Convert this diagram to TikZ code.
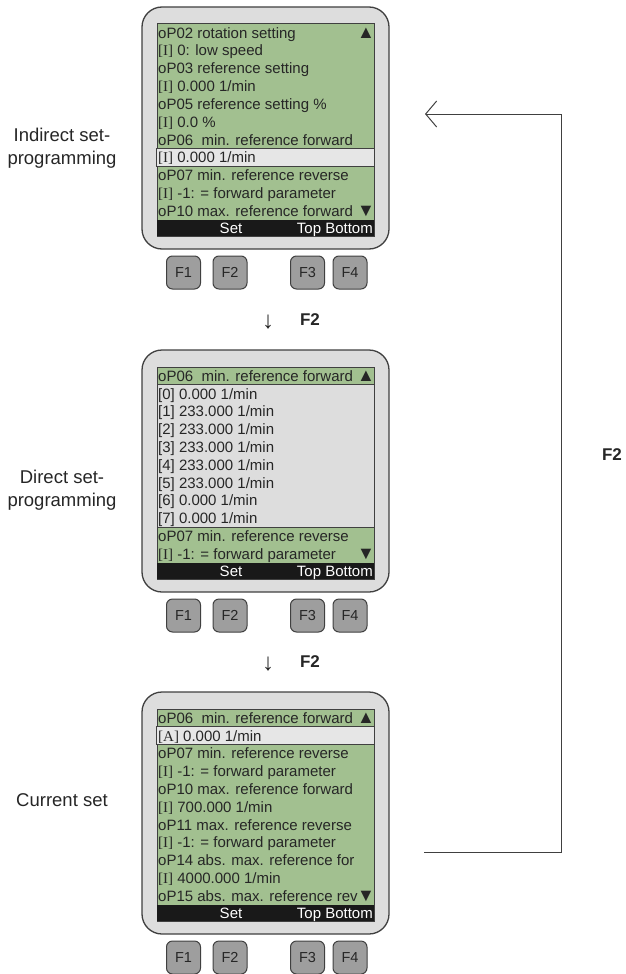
\documentclass[tikz,border=0pt]{standalone}
\usepackage{fontspec}
\setmainfont{Liberation Sans}
\newfontfamily\brfont{Liberation Serif}
\usetikzlibrary{arrows.meta}
\definecolor{lcdgreen}{RGB}{162,192,144}
\definecolor{casegrey}{RGB}{221,221,221}
\definecolor{keygrey}{RGB}{158,158,158}
\definecolor{selgrey}{RGB}{230,230,230}
\definecolor{darkline}{RGB}{64,64,64}
\definecolor{txt}{RGB}{38,38,38}
\tikzstyle{casing}=[draw=darkline,fill=casegrey,line width=1.3pt,rounded corners=20pt]
\tikzstyle{lcd}=[draw=darkline,fill=lcdgreen,line width=1pt]
\tikzstyle{selrow}=[draw=darkline,fill=selgrey,line width=1pt]
\tikzstyle{listbox}=[draw=darkline,fill=casegrey,line width=1pt]
\tikzstyle{bar}=[fill=black!90]
\tikzstyle{row}=[anchor=base west,inner sep=0pt,text=txt,font=\fontsize{15}{17}\selectfont]
\tikzstyle{arrowmark}=[anchor=base,inner sep=0pt,text=txt,font=\fontsize{18}{20}\selectfont]
\tikzstyle{bartext}=[anchor=base,inner sep=0pt,text=white,font=\fontsize{15}{17}\selectfont]
\tikzstyle{key}=[draw=darkline,fill=keygrey,rounded corners=6pt,line width=1pt,minimum width=34pt,minimum height=33pt,inner sep=0pt,text=txt,font=\fontsize{14.5}{16}\selectfont]
\tikzstyle{sidelabel}=[align=center,text=txt,font=\fontsize{18.5}{23}\selectfont]
\tikzstyle{keylabel}=[text=txt,font=\bfseries\fontsize{17}{20}\selectfont]
\tikzstyle{loop}=[draw=darkline,line width=1pt,-{Straight Barb[length=11pt,width=26pt,line width=1pt]}]
\newcommand{\brk}[1]{{\brfont #1}}

\begin{document}
\begin{tikzpicture}[x=1pt,y=-1pt]
\useasboundingbox (0,0) rectangle (626,974);

   \def\rh{17.8}
   \def\sl{157}
   \def\sr{374}

% Labels
\node[sidelabel] (lab1) at (62,148) {Indirect set-\\programming};
\node[sidelabel] (lab2) at (62,490) {Direct set-\\programming};
\node[sidelabel] (lab3) at (62,800) {Current set};

%Device 1
    \def\by{7}
    \draw[casing] (142,\by) rectangle (389,\by+242);
    \draw[lcd] (\sl,\by+17) rectangle (\sr,\by+229);
    \draw[selrow] (\sl-1,\by+17+7*\rh) rectangle (\sr,\by+17+8*\rh);
    \fill[bar] (\sl,\by+213) rectangle (\sr,\by+229);
    \foreach \i/\txt in {0/{oP02 rotation setting}, 1/{\brk{[I]} 0: low speed}, 2/{oP03 reference setting}, 3/{\brk{[I]} 0.000 1/min}, 4/{oP05 reference setting \%}, 5/{\brk{[I]} 0.0 \%}, 6/{oP06~~min. reference forward}, 7/{\brk{[I]} 0.000 1/min}, 8/{oP07 min. reference reverse}, 9/{\brk{[I]} -1: = forward parameter}, 10/{oP10 max. reference forward}}
        \node[row] (a\i) at (\sl+1,\by+17+\i*\rh+0.5*\rh+5.3) {\txt};
    \node[arrowmark] (aup) at (366,\by+17+0.5*\rh+5.5) {▲};
    \node[arrowmark] (adown) at (366,\by+17+10.5*\rh+5.5) {▼};
    \node[bartext] (aset) at (231,\by+221+5.3) {Set};
    \node[bartext,anchor=base east] (atop) at (\sr-1,\by+221+5.3) {Top Bottom};
    \foreach \k/\xk in {1/183.5, 2/230, 3/307.5, 4/350}
        \node[key] (af\k) at (\xk,\by+265.5) {F\k};

%Device 2
    \def\by{350}
    \draw[casing] (142,\by) rectangle (389,\by+242);
    \draw[lcd] (\sl,\by+17) rectangle (\sr,\by+229);
    \draw[listbox] (\sl,\by+17+\rh) rectangle (\sr,\by+17+9*\rh);
    \fill[bar] (\sl,\by+213) rectangle (\sr,\by+229);
    \foreach \i/\txt in {0/{oP06~~min. reference forward}, 1/{[0] 0.000 1/min}, 2/{[1] 233.000 1/min}, 3/{[2] 233.000 1/min}, 4/{[3] 233.000 1/min}, 5/{[4] 233.000 1/min}, 6/{[5] 233.000 1/min}, 7/{[6] 0.000 1/min}, 8/{[7] 0.000 1/min}, 9/{oP07 min. reference reverse}, 10/{\brk{[I]} -1: = forward parameter}}
        \node[row] (b\i) at (\sl+1,\by+17+\i*\rh+0.5*\rh+5.3) {\txt};
    \node[arrowmark] (bup) at (366,\by+17+0.5*\rh+5.5) {▲};
    \node[arrowmark] (bdown) at (366,\by+17+10.5*\rh+5.5) {▼};
    \node[bartext] (bset) at (231,\by+221+5.3) {Set};
    \node[bartext,anchor=base east] (btop) at (\sr-1,\by+221+5.3) {Top Bottom};
    \foreach \k/\xk in {1/183.5, 2/230, 3/307.5, 4/350}
        \node[key] (bf\k) at (\xk,\by+265.5) {F\k};

%Device 3
    \def\by{692}
    \draw[casing] (142,\by) rectangle (389,\by+242);
    \draw[lcd] (\sl,\by+17) rectangle (\sr,\by+229);
    \draw[selrow] (\sl-1,\by+17+1*\rh) rectangle (\sr,\by+17+2*\rh);
    \fill[bar] (\sl,\by+213) rectangle (\sr,\by+229);
    \foreach \i/\txt in {0/{oP06~~min. reference forward}, 1/{\brk{[A]} 0.000 1/min}, 2/{oP07 min. reference reverse}, 3/{\brk{[I]} -1: = forward parameter}, 4/{oP10 max. reference forward}, 5/{\brk{[I]} 700.000 1/min}, 6/{oP11 max. reference reverse}, 7/{\brk{[I]} -1: = forward parameter}, 8/{oP14 abs. max. reference for}, 9/{\brk{[I]} 4000.000 1/min}, 10/{oP15 abs. max. reference rev}}
        \node[row] (c\i) at (\sl+1,\by+17+\i*\rh+0.5*\rh+5.3) {\txt};
    \node[arrowmark] (cup) at (366,\by+17+0.5*\rh+5.5) {▲};
    \node[arrowmark] (cdown) at (366,\by+17+10.5*\rh+5.5) {▼};
    \node[bartext] (cset) at (231,\by+221+5.3) {Set};
    \node[bartext,anchor=base east] (ctop) at (\sr-1,\by+221+5.3) {Top Bottom};
    \foreach \k/\xk in {1/183.5, 2/230, 3/307.5, 4/350}
        \node[key] (cf\k) at (\xk,\by+265.5) {F\k};

% F2 steps
\node[text=txt,font=\fontsize{24}{26}\selectfont] (down1) at (268,322) {↓};
\node[keylabel] (step1) at (310,320) {F2};
\node[text=txt,font=\fontsize{24}{26}\selectfont] (down2) at (268,664) {↓};
\node[keylabel] (step2) at (310,662) {F2};

% back to start
\coordinate (loopstart) at (424,852);
\coordinate (looptip) at (425,114);
\draw[loop] (loopstart) -- ++(137,0) |- (looptip);
\node[keylabel] (steploop) at (612,455) {F2};

\end{tikzpicture}
\end{document}
